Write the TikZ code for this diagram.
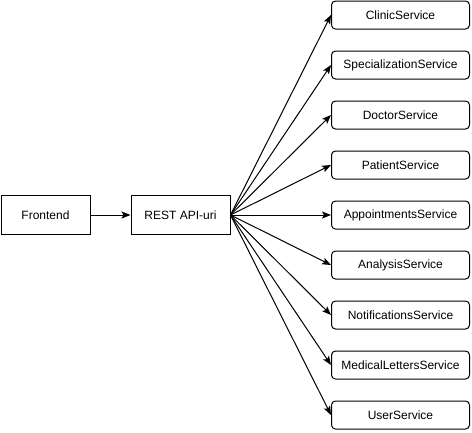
\documentclass[tikz,border=0pt]{standalone}
\usepackage{fontspec}
\setmainfont{Liberation Sans}
\usetikzlibrary{arrows.meta}
\tikzset{
  box/.style={draw, line width=1pt, minimum width=89pt, minimum height=39pt, inner sep=0pt, font=\fontsize{12}{14}\selectfont},
  svc/.style={draw, line width=1pt, rounded corners=4pt, minimum width=138pt, minimum height=28pt, inner sep=0pt, font=\fontsize{12}{14}\selectfont},
  conn/.style={line width=1pt, -{Stealth[length=9pt,width=7pt,inset=2pt]}}
}
\begin{document}
\begin{tikzpicture}[x=1pt,y=-1pt]
                \useasboundingbox (0,0) rectangle (472,432);
                \node[box] (fe) at (45.5,215) {Frontend};
                \node[box, minimum width=99pt] (api) at (180.5,215) {REST API-uri};
                \node[svc] (clinic) at (400.5,15) {ClinicService};
                \node[svc] (spec) at (400.5,65) {SpecializationService};
                \node[svc] (doctor) at (400.5,115) {DoctorService};
                \node[svc] (patient) at (400.5,165) {PatientService};
                \node[svc] (appt) at (400.5,215) {AppointmentsService};
                \node[svc] (analysis) at (400.5,265) {AnalysisService};
                \node[svc] (notif) at (400.5,315) {NotificationsService};
                \node[svc] (letters) at (400.5,365) {MedicalLettersService};
                \node[svc] (user) at (400.5,415) {UserService};

                \draw[conn] (fe) to (api);
                \draw[conn] (api.east) to (clinic.west); \draw[conn] (api.east) to (spec.west); \draw[conn] (api.east) to (doctor.west);
                \draw[conn] (api.east) to (patient.west); \draw[conn] (api.east) to (appt.west); \draw[conn] (api.east) to (analysis.west);
                \draw[conn] (api.east) to (notif.west); \draw[conn] (api.east) to (letters.west); \draw[conn] (api.east) to (user.west);
            \end{tikzpicture}
\end{document}
